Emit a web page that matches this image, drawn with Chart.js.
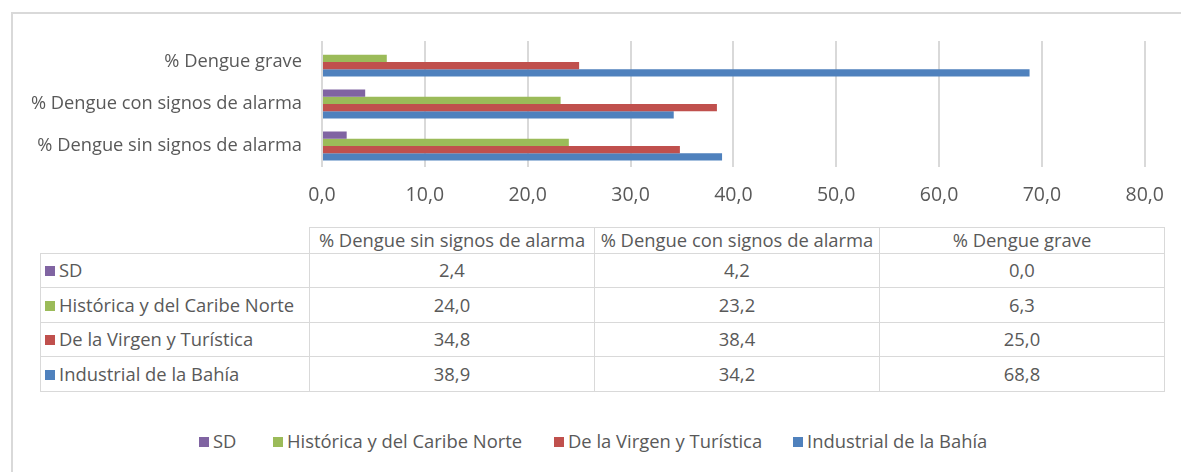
<!DOCTYPE html>
<html>
<head>
<meta charset="utf-8">
<script src="https://cdn.jsdelivr.net/npm/chart.js@4.4.1/dist/chart.umd.min.js"></script>
<style>
  body { margin: 0; background: #fff; font-family: "Open Sans", sans-serif; color: #595959; }
  #wrap { position: relative; width: 1181px; height: 472px; overflow: hidden; }
  #frame { position: absolute; left: 11px; top: 12px; width: 1200px; height: 500px; border: 2px solid #d9d9d9; box-sizing: border-box; }
  #chartBox { position: absolute; left: 0; top: 0; width: 1181px; height: 215px; }
  #tabla { position: absolute; left: 40px; top: 227px; border-collapse: collapse; font-size: 18.4px; table-layout: fixed; }
  #tabla td { border: 1.5px solid #d9d9d9; height: 33.6px; padding: 0 4px; white-space: nowrap; overflow: hidden; line-height: 1.1; }
  #tabla td.num { text-align: center; }
  #tabla tr.head td { height: 24.5px; text-align: center; }
  #tabla td.empty { border: none; }
  .sw { display: inline-block; width: 10px; height: 10px; margin-right: 4px; vertical-align: 1px; }
  #leyenda { position: absolute; top: 428px; left: 0; width: 1181px; font-size: 18.4px; }
  #leyenda span.item { position: absolute; white-space: nowrap; }
</style>
</head>
<body>
<div id="wrap">
  <div id="frame"></div>
  <div id="chartBox"><canvas id="grafico"></canvas></div>
  <table id="tabla"></table>
  <div id="leyenda"></div>
</div>
<script>
// categorias (orden de la tabla)
const categorias = ['% Dengue sin signos de alarma', '% Dengue con signos de alarma', '% Dengue grave'];
const series = ['SD', 'Histórica y del Caribe Norte', 'De la Virgen y Turística', 'Industrial de la Bahía'];
const colores = ['#8064A2', '#9BBB59', '#C0504D', '#4F81BD'];

// valores por serie
const valoresSD = [2.4, 4.2, 0.0];
const valoresHistorica = [24.0, 23.2, 6.3];
const valoresVirgen = [34.8, 38.4, 25.0];
const valoresIndustrial = [38.9, 34.2, 68.8];

const etiquetasEje = ['0,0', '10,0', '20,0', '30,0', '40,0', '50,0', '60,0', '70,0', '80,0'];

const valores = [valoresSD, valoresHistorica, valoresVirgen, valoresIndustrial];
const fmt = v => v.toFixed(1).replace('.', ',');

// en el grafico las categorias van de arriba (grave) hacia abajo (sin signos)
const etiquetasGrafico = categorias.slice().reverse();

const ctx = document.getElementById('grafico').getContext('2d');
new Chart(ctx, {
    type: 'bar',
    data: {
        labels: etiquetasGrafico,
        datasets: series.map((s, i) => ({
            label: s,
            data: valores[i].slice().reverse(),
            backgroundColor: colores[i],
            borderWidth: 0,
            categoryPercentage: 0.69,
            barPercentage: 1.0
        }))
    },
    options: {
        indexAxis: 'y',
        responsive: true,
        maintainAspectRatio: false,
        animation: false,
        layout: { padding: { top: 41, right: 35, bottom: 0, left: 0 } },
        plugins: { legend: { display: false }, tooltip: { enabled: false } },
        scales: {
            x: {
                min: 0,
                max: 80,
                ticks: {
                    stepSize: 10,
                    color: '#595959',
                    font: { family: 'Open Sans', size: 19.5 },
                    padding: 17,
                    callback: (v, idx) => etiquetasEje[idx]
                },
                grid: { color: '#d9d9d9', lineWidth: 2, drawTicks: false },
                border: { display: false },
                afterFit: scale => { scale.height = 48; }
            },
            y: {
                ticks: {
                    color: '#595959',
                    font: { family: 'Open Sans', size: 18.3 },
                    padding: 20
                },
                grid: { display: false, drawTicks: false },
                border: { display: false },
                afterFit: scale => { scale.width = 322; }
            }
        }
    }
});

// tabla de datos
const tabla = document.getElementById('tabla');
const anchos = [269, 285, 285, 285];
let html = '<colgroup>' + anchos.map(a => '<col style="width:' + a + 'px">').join('') + '</colgroup>';
html += '<tr class="head"><td class="empty"></td>';
categorias.forEach(c => { html += '<td>' + c + '</td>'; });
html += '</tr>';
series.forEach((s, i) => {
    html += '<tr><td><span class="sw" style="background:' + colores[i] + '"></span>' + s + '</td>';
    valores[i].forEach(v => { html += '<td class="num">' + fmt(v) + '</td>'; });
    html += '</tr>';
});
tabla.innerHTML = html;

// leyenda
const leyenda = document.getElementById('leyenda');
const posLeyenda = [199, 273, 554, 793];
series.forEach((s, i) => {
    const el = document.createElement('span');
    el.className = 'item';
    el.style.left = posLeyenda[i] + 'px';
    el.innerHTML = '<span class="sw" style="background:' + colores[i] + '"></span>' + s;
    leyenda.appendChild(el);
});
</script>
</body>
</html>
